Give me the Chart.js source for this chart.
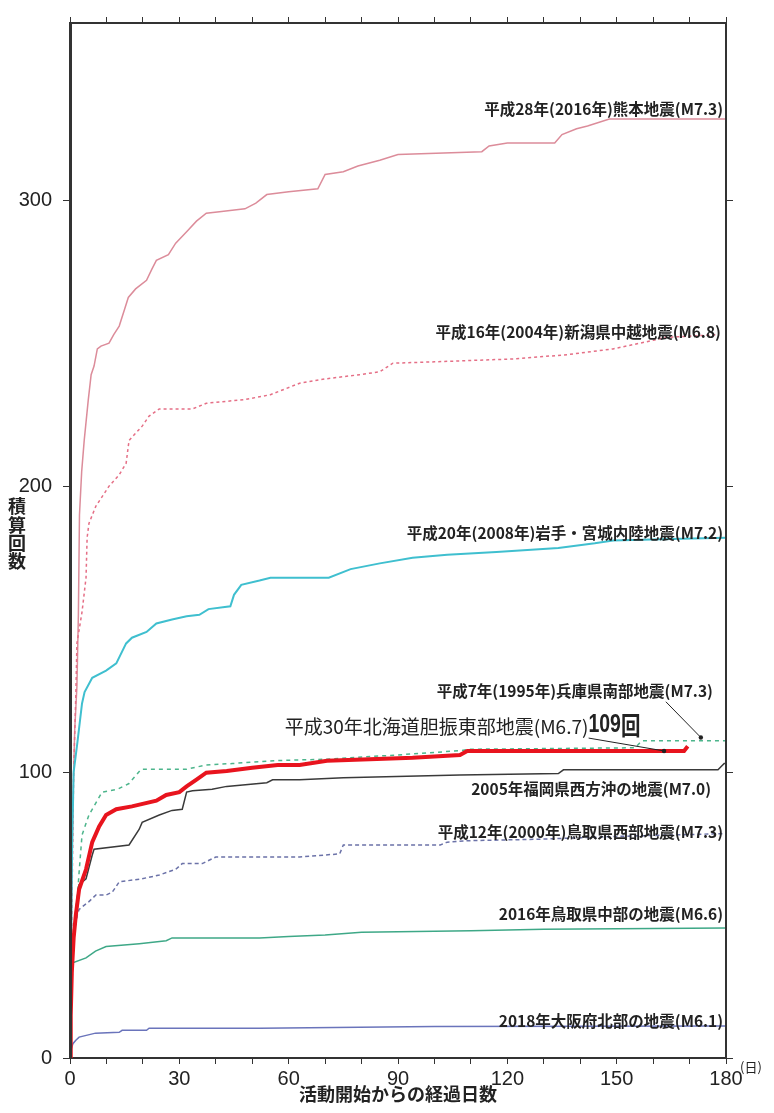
<!DOCTYPE html>
<html><head><meta charset="utf-8">
<script src="https://cdn.jsdelivr.net/npm/chart.js@4/dist/chart.umd.min.js"></script>
<style>html,body{margin:0;padding:0;background:#fff}canvas{display:block}</style>
</head><body>
<canvas id="c" width="774" height="1113" style="width:774px;height:1113px"></canvas>
<script>
// ---- data: [day, cumulative count] ----
const kumamoto = [[0,0],[0.3,40],[0.8,90],[1.3,115],[1.9,130],[2.3,155],[2.6,190],[3.2,205],[3.9,216],[5,230],[5.8,239],[6.6,242],[7.5,248],[8.5,249],[10.7,250],[12,253],[13.5,256],[15,262],[16,266],[18,269],[21,272],[22.5,276],[23.7,279],[27,281],[29,285],[32,289],[34.7,292.7],[37.4,295.5],[41,296],[48,297],[51,299],[54,302],[60,303],[68,304],[70,309],[75,310],[79,312],[85,314],[90,316],[113,317],[115,319],[120,320],[133,320],[135,323],[139,325],[142,326],[148,328.4],[180,328.4]];
const niigata = [[0,0],[0.3,30],[0.7,70],[1.0,100],[1.6,127],[1.9,145],[3.3,156],[4.4,168],[4.7,182],[5.2,187],[7.1,193],[10.7,200],[13.5,204],[15.4,208],[16.2,216],[19.8,221],[21.7,224.5],[24.5,227],[33.6,227],[37.4,229],[48,230.3],[55,232],[63,236],[70,237.5],[79.5,239],[85,240],[88.6,243],[100,243.5],[121.7,244.5],[136.5,246],[149,248],[160,251],[163,252],[178,253]];
const iwate = [[0,0],[0.3,40],[0.6,75],[1,100],[2,110],[3.3,124],[4,128],[6.1,133],[9.9,135.5],[12.7,138],[15.4,145],[17,147],[21,149],[23.7,152],[28,153.4],[32,154.5],[35.5,155],[38,157],[44,158],[45,162],[47,165.5],[52,167],[55,168],[71,168],[77,171],[85,173],[94,175],[103.5,176],[117,177],[134,178.4],[144,180],[149,181],[165,181.5],[180,182]];
const hyogo = [[0,0],[0.5,25],[1,40],[1.6,49],[2.5,65],[3.3,78],[5.2,85],[8.8,93],[13,94],[16.2,96],[19.5,101],[32,101],[37.4,102.5],[44.6,103],[56,104],[70,104.5],[90,106],[107,107.5],[110,108],[155,108.5],[157,111],[180,111]];
const hokkaido = [[0,0],[0.2,15],[0.5,30],[1,42],[1.6,50],[2.5,59],[4.4,66],[6.1,75.5],[8,81],[9.9,85],[12.7,87],[17,88],[23.7,90],[26.4,92],[30,93],[32,95],[34.7,97.4],[37.4,99.8],[43,100.4],[50,101.5],[57,102.5],[63,102.5],[70.5,104],[94,105],[107,106],[109,107.4],[168.5,107.4],[169.5,109]];
const fukuoka = [[0,0],[0.3,20],[0.8,40],[1.6,52],[2.5,60.6],[4.4,62.7],[6.1,71],[6.6,73],[16.2,74.5],[19,80],[19.8,82.4],[24.5,85],[28,86.6],[30.8,87],[32,93],[33.6,93.5],[39,94],[43,95],[54,96.3],[55.6,97.3],[63,97.3],[75,98],[107,99],[134,99.5],[135.4,100.8],[177.8,100.8],[179.5,103],[180,103]];
const tottoriWest = [[0,0],[0.5,30],[1,42],[2,50],[2.5,52],[5.2,54.7],[7.1,57],[9.9,57],[11.6,58],[13.5,61.6],[19.8,62.7],[24.5,64],[29,66],[30.8,68],[36.3,68],[40,70.3],[63,70.3],[74,71.4],[75,74.5],[101.6,74.5],[103.5,75.5],[109,76],[128,76.5],[150,77.5],[180,78.5]];
const tottoriCentral = [[0,0],[0.2,33],[4.4,35],[7,37.4],[9.9,39],[19,40],[26.4,41],[28,42],[52,42],[60,42.5],[70,43],[80,44],[110,44.5],[130,45],[180,45.5]];
const osaka = [[0,0],[0.3,3],[0.8,5],[1.6,6.2],[2.5,7.3],[7,8.7],[13.5,9],[14.3,9.7],[21,9.7],[21.7,10.4],[52,10.4],[100,11],[180,11.2]];

const seriesNames = [
  '平成30年北海道胆振東部地震(M6.7)',
  '平成28年(2016年)熊本地震(M7.3)',
  '平成16年(2004年)新潟県中越地震(M6.8)',
  '平成20年(2008年)岩手・宮城内陸地震(M7.2)',
  '平成7年(1995年)兵庫県南部地震(M7.3)',
  '2005年福岡県西方沖の地震(M7.0)',
  '平成12年(2000年)鳥取県西部地震(M7.3)',
  '2016年鳥取県中部の地震(M6.6)',
  '2018年大阪府北部の地震(M6.1)'
];
const hokkaidoCount = '109回';
const xTickStep = 10;
const xLabelStep = 30;
const yTickStep = 100;
const xTitle = '活動開始からの経過日数';
const yTitle = '積算回数';
const xUnit = '(日)';

// ---- chart ----
const pts = a => a.map(p => ({x: p[0], y: p[1]}));
const tickFont = {family: '"Liberation Sans", Arial, sans-serif', size: 20};
const jp = '"Noto Sans CJK JP", sans-serif';

const ds = (label, arr, color, width, dash) => ({
  label, data: pts(arr), borderColor: color, borderWidth: width,
  borderDash: dash || [], pointRadius: 0, tension: 0, fill: false
});

const datasets = [
  ds(seriesNames[0], hokkaido, '#e8141e', 4),
  ds(seriesNames[5], fukuoka, '#3a3a3a', 1.5),
  ds(seriesNames[4], hyogo, '#4db58c', 1.5, [4, 4]),
  ds(seriesNames[6], tottoriWest, '#6b72a8', 1.5, [4, 3]),
  ds(seriesNames[7], tottoriCentral, '#3ea887', 1.5),
  ds(seriesNames[8], osaka, '#6a74bb', 1.5),
  ds(seriesNames[3], iwate, '#3fbfcf', 2),
  ds(seriesNames[2], niigata, '#e56f86', 1.5, [3, 3]),
  ds(seriesNames[1], kumamoto, '#dc8c9a', 1.5)
];

// annotation anchors in data units (day, count): right edge / vertical centre of each label
const labelAnchors = [
  {t: seriesNames[1], d: 179.2, v: 331.8},
  {t: seriesNames[2], d: 178.6, v: 253.9},
  {t: seriesNames[3], d: 179.2, v: 183.6},
  {t: seriesNames[4], d: 176.4, v: 128.2},
  {t: seriesNames[5], d: 175.9, v: 94.2},
  {t: seriesNames[6], d: 179.2, v: 79},
  {t: seriesNames[7], d: 179.2, v: 50.2},
  {t: seriesNames[8], d: 179.2, v: 12.8}
];
const arrows = [
  {from: [163.5, 124.6], to: [173.1, 112.1]},
  {from: [142.3, 111.9], to: [163, 107.4]}
];
const hokkaidoLabel = {d: 58.9, v: 116};

const textPlugin = {
  id: 'texts',
  afterDraw(chart) {
    const c = chart.ctx, xs = chart.scales.x, ys = chart.scales.y;
    c.save();
    c.fillStyle = '#222';
    c.textBaseline = 'middle';
    c.font = 'bold 15.5px ' + jp;
    c.textAlign = 'right';
    labelAnchors.forEach(l => c.fillText(l.t, xs.getPixelForValue(l.d), ys.getPixelForValue(l.v)));
    // Hokkaido label
    c.textAlign = 'left';
    c.font = '19px ' + jp;
    const hx = xs.getPixelForValue(hokkaidoLabel.d), hy = ys.getPixelForValue(hokkaidoLabel.v);
    c.fillText(seriesNames[0], hx, hy);
    const w = c.measureText(seriesNames[0]).width;
    c.save();
    c.translate(hx + w, hy);
    c.scale(0.78, 1);
    c.font = 'bold 25px "Liberation Sans", Arial, sans-serif';
    c.fillText(hokkaidoCount.slice(0, 3), 0, -1);
    const w2 = c.measureText(hokkaidoCount.slice(0, 3)).width;
    c.font = 'bold 25px ' + jp;
    c.fillText(hokkaidoCount.slice(3), w2, -1);
    c.restore();
    // arrows
    c.strokeStyle = '#222'; c.lineWidth = 1;
    arrows.forEach(a => {
      const x1 = xs.getPixelForValue(a.from[0]), y1 = ys.getPixelForValue(a.from[1]);
      const x2 = xs.getPixelForValue(a.to[0]), y2 = ys.getPixelForValue(a.to[1]);
      c.beginPath(); c.moveTo(x1, y1); c.lineTo(x2, y2); c.stroke();
      c.beginPath(); c.arc(x2, y2, 2.2, 0, Math.PI * 2); c.fill();
    });
    // axis titles
    c.font = 'bold 18px ' + jp;
    c.textAlign = 'center';
    c.fillText(xTitle, (chart.chartArea.left + chart.chartArea.right) / 2, 1094);
    const yc = [506, 525, 543, 561];
    [...yTitle].forEach((ch, i) => c.fillText(ch, 17, yc[i]));
    c.font = '13px ' + jp;
    c.textAlign = 'left';
    c.fillText(xUnit, 740, 1067);
    c.restore();
  }
};

const axisCol = '#333';
const xAxisBase = (pos, showLabels, h) => ({
  type: 'linear', position: pos, min: 0, max: 180,
  ticks: {
    display: showLabels, stepSize: xTickStep, autoSkip: false, maxRotation: 0,
    includeBounds: false, font: tickFont, color: '#222', padding: 3,
    callback: v => (v % xLabelStep === 0 ? String(v) : '')
  },
  grid: {drawOnChartArea: false, drawTicks: true, tickLength: 6, tickColor: axisCol, tickWidth: 1},
  border: {display: true, color: axisCol, width: 2},
  afterFit: s => { s.height = h; }
});
const yAxisBase = (pos, showLabels, w, bw) => ({
  type: 'linear', position: pos, min: 0, max: 362,
  ticks: {
    display: showLabels, stepSize: yTickStep, includeBounds: false,
    font: tickFont, color: '#222', padding: 11
  },
  grid: {drawOnChartArea: false, drawTicks: true, tickLength: 7, tickColor: axisCol, tickWidth: 1},
  border: {display: true, color: axisCol, width: bw, z: 1},
  afterFit: s => { s.width = w; }
});

new Chart(document.getElementById('c'), {
  type: 'line',
  data: {datasets},
  options: {
    responsive: false, animation: false, devicePixelRatio: 1,
    layout: {padding: 0},
    plugins: {legend: {display: false}, tooltip: {enabled: false}},
    scales: {
      x: xAxisBase('bottom', true, 55),
      x2: xAxisBase('top', false, 11),
      y: yAxisBase('left', true, 70, 3),
      y2: yAxisBase('right', false, 48, 2)
    }
  },
  plugins: [textPlugin]
});
</script>
</body></html>
